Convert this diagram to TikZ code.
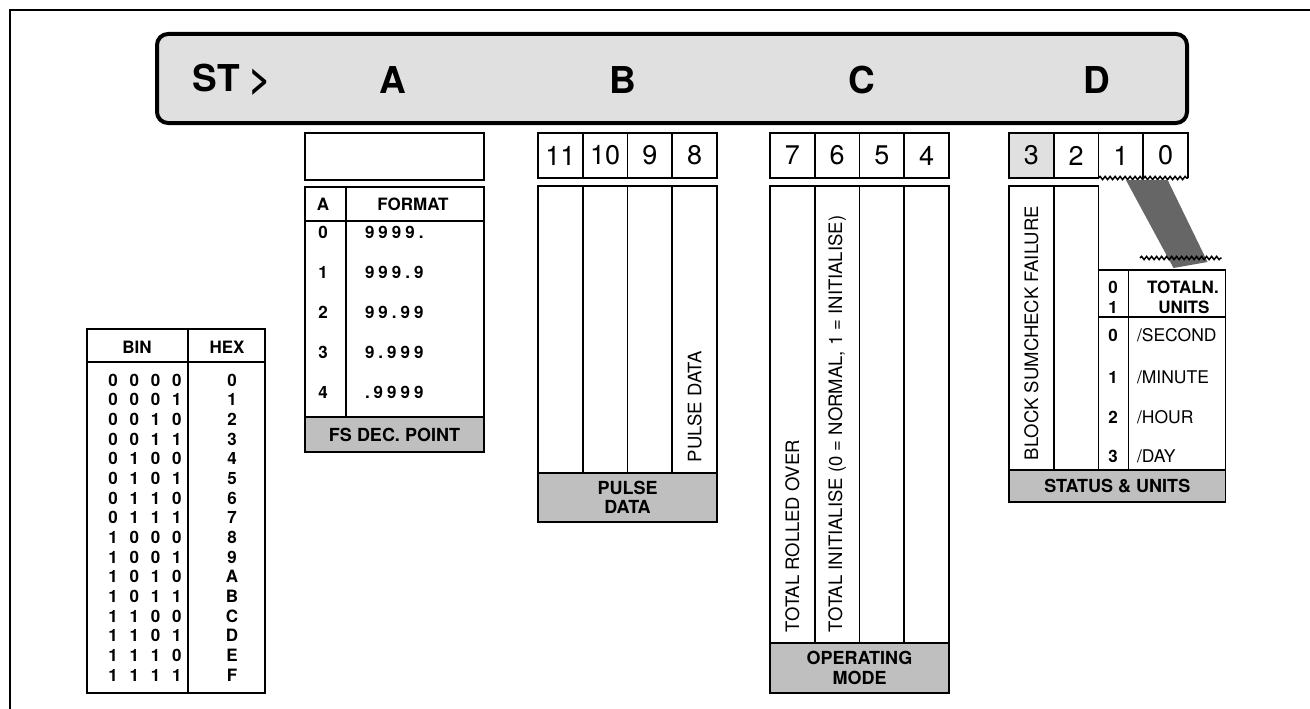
\documentclass[tikz,border=0pt]{standalone}
\usepackage{fontspec}
\setmainfont{TeX Gyre Heros}
\usetikzlibrary{positioning, calc, decorations.pathmorphing}

\newcommand{\bgap}{\hspace{11.8pt}}
\newcommand{\fgap}{\hspace{4pt}}

\begin{document}
\begin{tikzpicture}[
        x=1pt, y=-1pt,
        every node/.style={inner sep=0pt, outer sep=0pt},
        rule/.style={line width=1.8pt},
        bar/.style={draw, line width=4pt, rounded corners=11pt, fill=black!12},
        barlabel/.style={font=\fontsize{37}{40}\selectfont\bfseries},
        bitcell/.style={draw, rule, minimum width=44.75pt, minimum height=45pt,
            font=\fontsize{27}{30}\selectfont},
        colbox/.style={draw, rule, minimum width=44.75pt},
        band/.style={draw, rule, fill=black!25, align=center,
            font=\fontsize{18}{19.5}\selectfont\bfseries},
        vlabel/.style={rotate=90, anchor=west, font=\fontsize{18.5}{20}\selectfont},
        head/.style={font=\fontsize{17}{20}\selectfont\bfseries},
        entry/.style={font=\fontsize{17}{20}\selectfont\bfseries},
        unit/.style={anchor=west, font=\fontsize{17.5}{20}\selectfont},
        wave/.style={line width=1.5pt, decorate,
            decoration={snake, amplitude=1.6pt, segment length=5pt}},
        hatch/.style={fill=black!60}
    ]
    \useasboundingbox (0,0) rectangle (1310,709);

    % Frame
    \draw[line width=1.6pt] (10,709) -- (10,10) -- (1310,10);

    % Register bar
    \node[bar, minimum width=1030pt, minimum height=89pt] (bar) at (672,78.5) {};
    \node[barlabel] (st) at (232,80) {ST >};
    \node[barlabel] (la) at (393,80) {A};
    \node[barlabel] (lb) at (623,80) {B};
    \node[barlabel] (lc) at (862,80) {C};
    \node[barlabel] (ld) at (1097,80) {D};

    % Bit cells
    \node[draw, rule, minimum width=179pt, minimum height=47pt] (abox) at (394.5,156.5) {};
    \node[bitcell] (b11) at (560.4,155.5) {11};
    \node[bitcell, right=0pt of b11] (b10) {10};
    \node[bitcell, right=0pt of b10] (b9) {9};
    \node[bitcell, right=0pt of b9] (b8) {8};
    \node[bitcell] (c7) at (792.4,155.5) {7};
    \node[bitcell, right=0pt of c7] (c6) {6};
    \node[bitcell, right=0pt of c6] (c5) {5};
    \node[bitcell, right=0pt of c5] (c4) {4};
    \node[bitcell, fill=black!12] (d3) at (1031.4,155.5) {3};
    \node[bitcell, right=0pt of d3] (d2) {2};
    \node[bitcell, draw=none, right=0pt of d2] (d1) {1};
    \node[bitcell, draw=none, right=0pt of d1] (d0) {0};
    \draw[rule] (d1.south west) -- (d1.north west) -- (d0.north east) -- (d0.south east);
    \draw[rule] (d1.north east) -- (d1.south east);
    \draw[wave] (d1.south west) -- (d0.south east);

    % Format table (A)
    \node[draw, rule, minimum width=179pt, minimum height=265pt] (fmt) at (394.5,319.5) {};
    \node[band, anchor=south west, minimum width=179pt, minimum height=35pt] (fsband) at (fmt.south west) {FS DEC. POINT};
    \draw[rule] ($(fmt.north west)+(0,34)$) -- ($(fmt.north east)+(0,34)$);
    \draw[rule] ($(fmt.north west)+(41,0)$) -- ($(fsband.north west)+(41,0)$);
    \node[head] (fa) at (323,204) {A};
    \node[head] (fformat) at (413,204) {FORMAT};
    \foreach \v/\f [count=\i from 0] in {0/9\fgap9\fgap9\fgap9\fgap., 1/9\fgap9\fgap9\fgap.\fgap9,
            2/9\fgap9\fgap.\fgap9\fgap9, 3/9\fgap.\fgap9\fgap9\fgap9, 4/.\fgap9\fgap9\fgap9\fgap9} {
        \node[entry] (fk\i) at (323,{232+40*\i}) {\v};
        \node[entry, anchor=west] (fv\i) at (365,{232+40*\i}) {\f};
    }

    % Pulse data (B)
    \node[colbox, minimum height=287pt] (pb11) at (560.4,329.5) {};
    \node[colbox, minimum height=287pt, right=0pt of pb11] (pb10) {};
    \node[colbox, minimum height=287pt, right=0pt of pb10] (pb9) {};
    \node[colbox, minimum height=287pt, right=0pt of pb9] (pb8) {};
    \node[vlabel] (pulselbl) at (pb8.south |- 0,462) {PULSE DATA};
    \node[band, anchor=north west, minimum width=179pt, minimum height=49pt] (pulseband) at (pb11.south west) {PULSE\\DATA};

    % Operating mode (C)
    \node[colbox, minimum height=457pt] (pc7) at (792.4,414.5) {};
    \node[colbox, minimum height=457pt, right=0pt of pc7] (pc6) {};
    \node[colbox, minimum height=457pt, right=0pt of pc6] (pc5) {};
    \node[colbox, minimum height=457pt, right=0pt of pc5] (pc4) {};
    \node[vlabel] (rolled) at (pc7.south |- 0,632) {TOTAL ROLLED OVER};
    \node[vlabel] (initial) at (pc6.south |- 0,632) {TOTAL INITIALISE (0 = NORMAL, 1 = INITIALISE)};
    \node[band, anchor=north west, minimum width=179pt, minimum height=50pt] (modeband) at (pc7.south west) {OPERATING\\MODE};

    % Status and units (D)
    \node[colbox, minimum height=284pt] (blk3) at (1031.4,328) {};
    \node[colbox, minimum height=284pt, right=0pt of blk3] (blk2) {};
    \node[vlabel] (sumcheck) at (blk3.south |- 0,460) {BLOCK SUMCHECK FAILURE};
    \node[draw, rule, anchor=south west, minimum width=127pt, minimum height=200pt] (units) at (blk2.south east) {};
    \draw[rule] ($(units.north west)+(30,0)$) -- ($(units.south west)+(30,0)$);
    \draw[rule] ($(units.north west)+(0,47)$) -- ($(units.north east)+(0,47)$);
    \node[head] (u0) at (1113,287) {0};
    \node[head] (u1) at (1113,307) {1};
    \node[head] (totaln) at (1183,287) {TOTALN.};
    \node[head] (unitsh) at (1184,307) {UNITS};
    \foreach \u [count=\i from 0] in {335,377,417,456} {
        \node[entry] (uk\i) at (1113,\u) {\i};
    }
    \node[unit] (second) at (1137,335) {/SECOND};
    \node[unit] (minute) at (1137,377) {/MINUTE};
    \node[unit] (hour) at (1137,417) {/HOUR};
    \node[unit] (day) at (1137,456) {/DAY};
    \node[band, anchor=north west, minimum width=216.5pt, minimum height=32pt] (statusband) at (blk3.south west) {STATUS \& UNITS};

    % Link from bits 1-0
    \fill[hatch] ($(d1.south)+(5,2)$) -- ($(d0.south)+(2,2)$)
        -- ($(units.north east)+(-18,-8)$) -- ($(units.north east)+(-52,-2)$) -- cycle;
    \draw[wave] ($(units.north)+(-22,-12)$) -- ($(units.north east)+(-4,-12)$);

    % Bin / hex table
    \node[draw, rule, minimum width=178pt, minimum height=364pt] (binhex) at (176,511) {};
    \draw[rule] ($(binhex.north west)+(101,0)$) -- ($(binhex.south west)+(101,0)$);
    \draw[rule] ($(binhex.north west)+(0,33)$) -- ($(binhex.north east)+(0,33)$);
    \node[head] (binh) at (137,347) {BIN};
    \node[head] (hexh) at (227,347) {HEX};
    \foreach \h [count=\n from 0] in {0,1,2,3,4,5,6,7,8,9,A,B,C,D,E,F} {
        \pgfmathtruncatemacro\bitA{\n/8}
        \pgfmathtruncatemacro\bitB{mod(\n,8)/4}
        \pgfmathtruncatemacro\bitC{mod(\n,4)/2}
        \pgfmathtruncatemacro\bitD{mod(\n,2)}
        \node[entry] (bin\n) at (145,{380+19.67*\n}) {\bitA\bgap\bitB\bgap\bitC\bgap\bitD};
        \node[entry] (hex\n) at (232,{380+19.67*\n}) {\h};
    }

\end{tikzpicture}
\end{document}
